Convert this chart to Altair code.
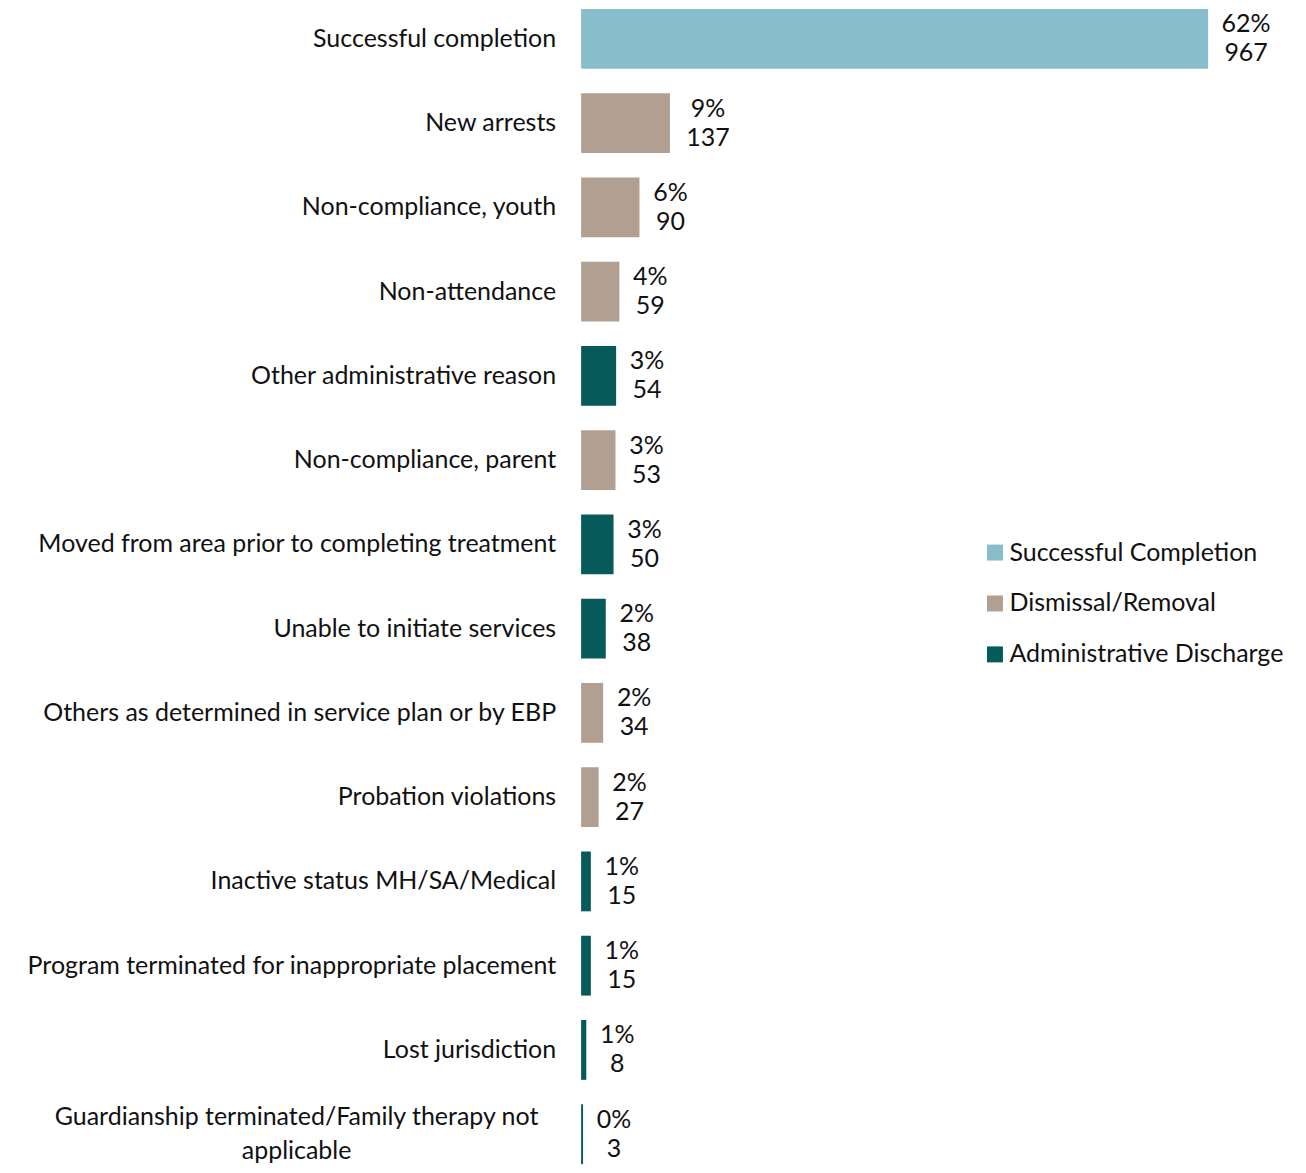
import altair as alt
import pandas as pd

categories = [
    "Successful completion",
    "New arrests",
    "Non-compliance, youth",
    "Non-attendance",
    "Other administrative reason",
    "Non-compliance, parent",
    "Moved from area prior to completing treatment",
    "Unable to initiate services",
    "Others as determined in service plan or by EBP",
    "Probation violations",
    "Inactive status MH/SA/Medical",
    "Program terminated for inappropriate placement",
    "Lost jurisdiction",
    "Guardianship terminated/Family therapy not applicable",
]
display_labels = categories[:-1] + ["Guardianship terminated/Family therapy not|applicable"]
counts = [967, 137, 90, 59, 54, 53, 50, 38, 34, 27, 15, 15, 8, 3]
percents = [62, 9, 6, 4, 3, 3, 3, 2, 2, 2, 1, 1, 1, 0]
types = [
    "Successful Completion",
    "Dismissal/Removal",
    "Dismissal/Removal",
    "Dismissal/Removal",
    "Administrative Discharge",
    "Dismissal/Removal",
    "Administrative Discharge",
    "Administrative Discharge",
    "Dismissal/Removal",
    "Dismissal/Removal",
    "Administrative Discharge",
    "Administrative Discharge",
    "Administrative Discharge",
    "Administrative Discharge",
]
type_order = ["Successful Completion", "Dismissal/Removal", "Administrative Discharge"]
type_colors = ["#88BECB", "#B1A092", "#065A5A"]

df = pd.DataFrame({
    "category": categories,
    "display": display_labels,
    "count": counts,
    "pct": percents,
    "type": types,
})
df["value_label"] = [f"{p}%\n{c}" for p, c in zip(percents, counts)]
df["wrapped"] = df["display"].str.contains("\\|")

FONT = "Lato"
FS = 25
TXT = "#111111"

y_enc = alt.Y(
    "category:N",
    sort=categories,
    scale=alt.Scale(paddingInner=0.29, paddingOuter=0),
    axis=None,
)
x_enc = alt.X("count:Q", scale=alt.Scale(domain=[0, 967], nice=False), axis=None)

base = alt.Chart(df)

bars = base.mark_bar().encode(
    x=x_enc,
    y=y_enc,
    color=alt.Color(
        "type:N",
        scale=alt.Scale(domain=type_order, range=type_colors),
        legend=alt.Legend(
            title=None,
            orient="none",
            legendX=402,
            legendY=532,
            symbolType="square",
            symbolSize=256,
            symbolStrokeWidth=0,
            labelFont=FONT,
            labelFontSize=FS,
            labelColor=TXT,
            labelOffset=2,
            rowPadding=25,
            labelLimit=400,
        ),
    ),
)

values_wide = base.transform_filter("datum.count >= 100").mark_text(
    align="center", baseline="middle", dx=38, dy=-14.5, lineBreak="\n", lineHeight=29,
    font=FONT, fontSize=FS, color=TXT,
).encode(x=x_enc, y=y_enc, text="value_label:N")

values_narrow = base.transform_filter("datum.count < 100").mark_text(
    align="center", baseline="middle", dx=31, dy=-14.5, lineBreak="\n", lineHeight=29,
    font=FONT, fontSize=FS, color=TXT,
).encode(x=x_enc, y=y_enc, text="value_label:N")

cat_labels = base.transform_filter("!datum.wrapped").mark_text(
    align="right", baseline="middle", dx=-25,
    font=FONT, fontSize=FS, color=TXT,
).encode(x=alt.value(0), y=y_enc, text="display:N")

wrapped_labels = base.transform_filter("datum.wrapped").mark_text(
    align="center", baseline="middle", dx=-285, dy=-17, lineBreak="|", lineHeight=34,
    font=FONT, fontSize=FS, color=TXT,
).encode(x=alt.value(0), y=y_enc, text="display:N")

chart = (
    alt.layer(bars, values_wide, values_narrow, cat_labels, wrapped_labels)
    .properties(
        width=628,
        height=1157,
        autosize="none",
        padding={"left": 574, "top": 0, "right": 90, "bottom": 0},
    )
    .configure_view(stroke=None)
)

chart.save("out.html", embed_options={"renderer": "svg", "actions": False})
